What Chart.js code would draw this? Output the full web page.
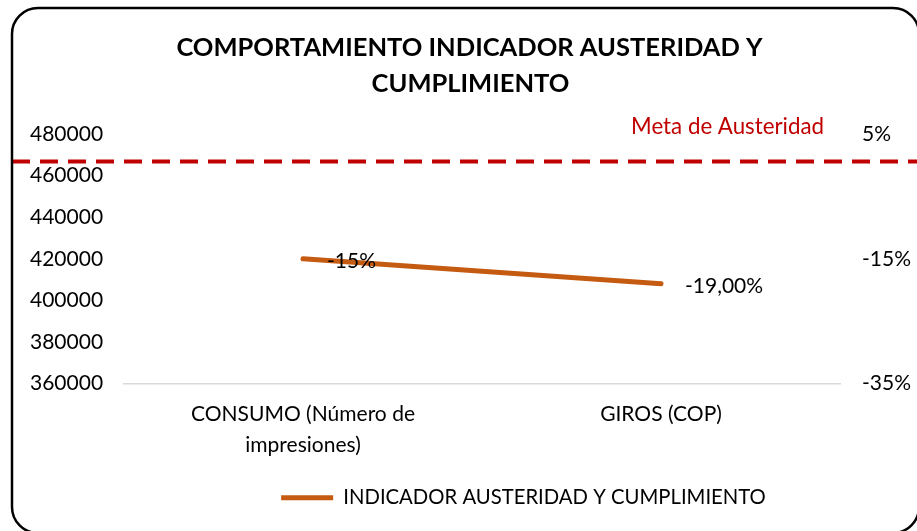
<!DOCTYPE html>
<html>
<head>
<meta charset="utf-8">
<script src="https://cdn.jsdelivr.net/npm/chart.js@4.4.1/dist/chart.umd.min.js"></script>
<style>
  html, body { margin: 0; padding: 0; background: #ffffff; }
  #wrap { position: relative; width: 917px; height: 531px; }
</style>
</head>
<body>
<div id="wrap"><canvas id="c" width="917" height="531"></canvas></div>
<script>
// ---- data ----
const titleLine1 = 'COMPORTAMIENTO INDICADOR AUSTERIDAD Y';
const titleLine2 = 'CUMPLIMIENTO';
const categories = [['CONSUMO (Número de', 'impresiones)'], 'GIROS (COP)'];
const seriesName = 'INDICADOR AUSTERIDAD Y CUMPLIMIENTO';
const indicadorValues = [-15, -19];           // percent, right axis
const indicadorLabels = ['-15%', '-19,00%'];
const leftAxisMin = 360000, leftAxisMax = 480000, leftAxisStep = 20000;
const rightAxisMin = -35, rightAxisMax = 5, rightAxisStep = 20;
const metaAusteridad = 0.6;                   // percent, right axis
const metaLabel = 'Meta de Austeridad';

const FONT = 'Lato, "Liberation Sans", sans-serif';

const backgroundPlugin = {
  id: 'bg',
  beforeDraw(chart) {
    const ctx = chart.ctx;
    ctx.save();
    ctx.fillStyle = '#ffffff';
    ctx.fillRect(0, 0, chart.width, chart.height);
    ctx.restore();
  },
  afterDraw(chart) {
    const ctx = chart.ctx;
    ctx.save();
    ctx.strokeStyle = '#000000';
    ctx.lineWidth = 2.5;
    ctx.beginPath();
    ctx.roundRect(12, 8, 907, 525, 26);
    ctx.stroke();
    ctx.restore();
  }
};

const metaPlugin = {
  id: 'meta',
  afterDatasetsDraw(chart) {
    const ctx = chart.ctx;
    const y = chart.scales.y1.getPixelForValue(metaAusteridad);
    ctx.save();
    ctx.strokeStyle = '#C00000';
    ctx.lineWidth = 4;
    ctx.setLineDash([18, 10]);
    ctx.beginPath();
    ctx.moveTo(12, y);
    ctx.lineTo(chart.width, y);
    ctx.stroke();
    ctx.setLineDash([]);
    ctx.fillStyle = '#C00000';
    ctx.font = '22.3px ' + FONT;
    ctx.textAlign = 'right';
    ctx.textBaseline = 'middle';
    ctx.fillText(metaLabel, chart.chartArea.right - 16, y - 35);
    ctx.restore();
  }
};

const dataLabelPlugin = {
  id: 'dlabels',
  afterDatasetsDraw(chart) {
    const ctx = chart.ctx;
    const meta = chart.getDatasetMeta(0);
    ctx.save();
    ctx.fillStyle = '#000000';
    ctx.font = '21px ' + FONT;
    ctx.textAlign = 'left';
    ctx.textBaseline = 'middle';
    meta.data.forEach((pt, i) => {
      ctx.fillText(indicadorLabels[i], pt.x + 24, pt.y + 2);
    });
    ctx.restore();
  }
};

const shiftPlugin = {
  id: 'shift',
  afterLayout(chart) {
    const dxLegend = 50;
    chart.legend.left += dxLegend;
    chart.legend.right += dxLegend;
    chart.titleBlock.left -= 4;
    chart.titleBlock.right -= 4;
    chart.boxes.forEach(b => {
      if (b !== chart.titleBlock && b.options && b.options.text === titleLine2) {
        b.left -= 3;
        b.right -= 3;
      }
    });
  }
};

new Chart(document.getElementById('c'), {
  type: 'line',
  data: {
    labels: categories,
    datasets: [{
      label: seriesName,
      data: indicadorValues,
      yAxisID: 'y1',
      borderColor: '#C55A11',
      backgroundColor: '#C55A11',
      borderWidth: 5,
      borderCapStyle: 'round',
      pointRadius: 0,
      pointHoverRadius: 0,
      tension: 0
    }]
  },
  options: {
    responsive: false,
    animation: false,
    layout: { padding: { top: 11, left: 30, right: 0, bottom: 13 } },
    plugins: {
      title: {
        display: true,
        text: titleLine1,
        color: '#000000',
        font: { family: FONT, size: 25.5, weight: 'bold', lineHeight: 1.41 },
        padding: { top: 19, bottom: 0 }
      },
      subtitle: {
        display: true,
        text: titleLine2,
        color: '#000000',
        font: { family: FONT, size: 25.5, weight: 'bold', lineHeight: 1.41 },
        padding: { top: 0, bottom: 32 }
      },
      legend: {
        display: true,
        position: 'bottom',
        labels: {
          color: '#000000',
          font: { family: FONT, size: 20.3 },
          usePointStyle: true,
          pointStyle: 'line',
          pointStyleWidth: 52,
          padding: 10
        }
      },
      tooltip: { enabled: false }
    },
    scales: {
      x: {
        type: 'category',
        offset: true,
        grid: { display: false },
        border: { display: true, color: '#D9D9D9', width: 1.5 },
        ticks: {
          color: '#000000',
          font: { family: FONT, size: 21, lineHeight: 1.43 },
          padding: 8,
          maxRotation: 0,
          autoSkip: false
        },
        afterFit(scale) { scale.height = 94; }
      },
      y: {
        type: 'linear',
        position: 'left',
        min: leftAxisMin,
        max: leftAxisMax,
        grid: { display: false },
        border: { display: false },
        ticks: {
          stepSize: leftAxisStep,
          color: '#000000',
          font: { family: FONT, size: 21 },
          crossAlign: 'far',
          callback: v => String(v)
        },
        afterFit(scale) { scale.width = 94; }
      },
      y1: {
        type: 'linear',
        position: 'right',
        min: rightAxisMin,
        max: rightAxisMax,
        grid: { display: false },
        border: { display: false },
        ticks: {
          stepSize: rightAxisStep,
          color: '#000000',
          font: { family: FONT, size: 21 },
          padding: 14,
          callback: v => v + '%'
        },
        afterFit(scale) { scale.width = 77; }
      }
    }
  },
  plugins: [backgroundPlugin, metaPlugin, dataLabelPlugin, shiftPlugin]
});
</script>
</body>
</html>
